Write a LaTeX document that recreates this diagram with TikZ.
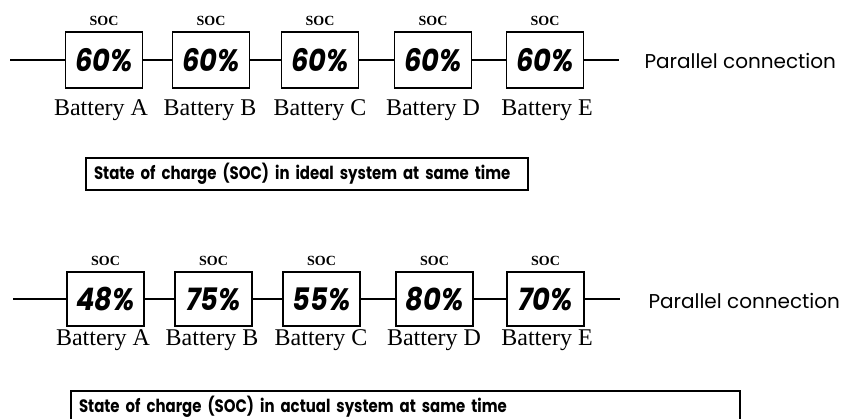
\documentclass[tikz,border=0pt]{standalone}
\usepackage{fontspec}
\setmainfont{Liberation Serif}
\newfontfamily\geofont{Poppins}
\newfontfamily\geonarrow[FakeStretch=0.88]{Poppins}
\newfontfamily\capfont[FakeStretch=0.83]{Poppins}
\usepackage{tikz}
\usetikzlibrary{positioning,calc}

\begin{document}
\begin{tikzpicture}[x=1pt,y=-1pt,
   batbox/.style={draw,line width=1.6pt,minimum width=77pt,minimum height=56pt,
              inner sep=0pt,font=\geonarrow\bfseries\itshape\fontsize{31}{31}\selectfont},
   soclbl/.style={anchor=base,font=\bfseries\fontsize{14}{14}\selectfont},
   batlbl/.style={anchor=base,font=\fontsize{24}{24}\selectfont},
   parlbl/.style={anchor=base west,font=\geofont\fontsize{20}{20}\selectfont},
   capbox/.style={draw,line width=1.2pt,inner sep=0pt,align=left,
              font=\capfont\bfseries\fontsize{18}{18}\selectfont},
   wire/.style={line width=1.4pt}]
  \clip (0,0) rectangle (844,418);
  % ideal system
  \node[batbox] (a1) at (104,60) {60\%};
  \node[batbox] (b1) at (211,60) {60\%};
  \node[batbox] (c1) at (320,60) {60\%};
  \node[batbox] (d1) at (433,60) {60\%};
  \node[batbox] (e1) at (545,60) {60\%};
  \foreach \n/\x in {a1/104,b1/211,c1/320,d1/433,e1/545}
    \node[soclbl] (s\n) at (\x,25) {SOC};
  \node[batlbl] (la1) at (101,115) {Battery A};
  \node[batlbl] (lb1) at (210,115) {Battery B};
  \node[batlbl] (lc1) at (320,115) {Battery C};
  \node[batlbl] (ld1) at (433,115) {Battery D};
  \node[batlbl] (le1) at (547,115) {Battery E};
  \coordinate (in1) at (10,60);
  \coordinate (out1) at (619,60);
  \draw[wire] (in1) -- (a1) (a1) -- (b1) (b1) -- (c1) (c1) -- (d1) (d1) -- (e1) (e1) -- (out1);
  \node[parlbl] (p1) at (641,68) {Parallel connection};
  \node[capbox,minimum width=442pt,minimum height=32pt,text width=426pt] (cap1) at (307,174)
     {State of charge (SOC) in ideal system at same time};
  % actual system
  \node[batbox,minimum height=54pt] (a2) at (105.5,299) {48\%};
  \node[batbox,minimum height=54pt] (b2) at (213.5,299) {75\%};
  \node[batbox,minimum height=54pt] (c2) at (321.5,299) {55\%};
  \node[batbox,minimum height=54pt] (d2) at (434.5,299) {80\%};
  \node[batbox,minimum height=54pt] (e2) at (545.5,299) {70\%};
  \foreach \n/\x in {a2/105.5,b2/213.5,c2/321.5,d2/434.5,e2/545.5}
    \node[soclbl] (s\n) at (\x,265) {SOC};
  \node[batlbl] (la2) at (103,345) {Battery A};
  \node[batlbl] (lb2) at (212,345) {Battery B};
  \node[batlbl] (lc2) at (321,345) {Battery C};
  \node[batlbl] (ld2) at (434,345) {Battery D};
  \node[batlbl] (le2) at (547,345) {Battery E};
  \coordinate (in2) at (13,299);
  \coordinate (out2) at (620,299);
  \draw[wire] (in2) -- (a2) (a2) -- (b2) (b2) -- (c2) (c2) -- (d2) (d2) -- (e2) (e2) -- (out2);
  \node[parlbl] (p2) at (645,308) {Parallel connection};
  \node[capbox,minimum width=669pt,minimum height=32pt,text width=653pt] (cap2) at (405.5,407)
     {State of charge (SOC) in actual system at same time};
\end{tikzpicture}
\end{document}
